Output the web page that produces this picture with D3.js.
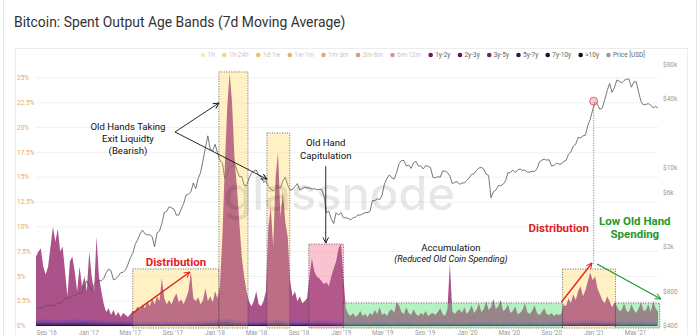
<!DOCTYPE html>
<html><head><meta charset="utf-8">
<script src="https://cdn.jsdelivr.net/npm/d3@7"></script>
<style>
html,body{margin:0;padding:0;background:#fff;}
svg{display:block;font-family:Roboto,"Open Sans",Arial,sans-serif;}
</style></head><body>
<svg id="chart" width="700" height="335"></svg>
<script>
// ---- data -------------------------------------------------------------
const startWeek = "2016-08-07";   // first weekly sample, one value per week after it

// 1y-2y spent output share (%), weekly
const band1y2y = [
  7, 7.5, 7.8, 6, 5.2, 6, 8, 10, 8.5, 9.8,
  7.5, 8, 5.5, 3, 6.5, 7, 5.5, 3.5, 6, 4,
  5, 3.5, 7.5, 5, 3.5, 9, 5, 3.5, 2.2, 1.4,
  1.8, 1.1, 1.6, 1.0, 1.4, 0.9, 1.3, 1.1, 0.9, 1.2,
  1.5, 1.5, 2, 1.6, 2.2, 1.8, 2.5, 2, 2.8, 2.2,
  3, 2.5, 4.8, 2.8, 2.2, 2.6, 2.2, 2.8, 3.3, 2.4,
  2.7, 2.2, 2.8, 3.5, 5.5, 2.8, 2.5, 2.9, 2.2, 2.6,
  3.8, 2.5, 3, 2.4, 3.5, 2.8, 4, 9, 16, 22,
  25.5, 22.5, 17, 14, 10.5, 7, 5, 3.5, 2.5, 2,
  2.5, 3.5, 2.2, 2, 2.5, 3.5, 10, 12, 8, 15,
  17.5, 11, 13.5, 10.5, 9, 4.5, 3, 3.5, 2.5, 3,
  2.3, 2.5, 2.8, 5, 6.8, 5.5, 5, 4.8, 4.5, 4.2,
  4.4, 4, 5, 5.8, 6.5, 7.8, 8.3, 5, 1.8, 1.2,
  1.0, 1.3, 0.9, 1.1, 1.5, 1.0, 1.2, 0.9, 1.3, 1.1,
  1.6, 1.2, 1.9, 1.1, 1.3, 1.0, 1.5, 1.7, 1.3, 2.4,
  2.1, 1.4, 1.2, 1.9, 1.3, 1.1, 1.7, 1.2, 1.0, 1.3,
  1.1, 1.5, 1.0, 1.2, 1.3, 1.1, 1.4, 1.8, 1.2, 1.0,
  1.7, 6.3, 1.5, 1.2, 1.5, 1.7, 1.3, 1.9, 1.2, 1.5,
  2.1, 1.3, 1.6, 2.3, 1.4, 1.7, 2.5, 1.6, 1.9, 2.7,
  1.7, 2.0, 2.6, 1.5, 1.7, 2.2, 1.3, 1.5, 2.0, 1.2,
  1.3, 1.6, 2.3, 1.4, 1.2, 1.5, 2.1, 1.3, 1.1, 1.4,
  1.8, 1.2, 1.1, 1.3, 1.0, 1.2, 1.1, 1.2, 2.2, 2.0,
  2.8, 2.3, 3.2, 2.6, 3.5, 4.0, 3.0, 3.6, 4.5, 5.4,
  4.6, 5.0, 3.8, 3.2, 2.6, 2.3, 3.0, 2.5, 1.9, 2.4,
  2.0, 1.5, 1.6, 2.3, 1.5, 1.4, 2.2, 1.6, 1.3, 1.8,
  2.4, 1.5, 1.6, 2.2, 1.4, 2.5, 1.8, 1.4
];

// BTC price (USD), weekly, same dates as band1y2y
const priceUSD = [
  590,570,580,575,610,605,610,605,612,640,640,655,700,710,705,740,735,765,775,790,900,
  1000,900,820,920,970,1010,1000,1050,1180,1270,1230,1020,1040,1100,1180,1190,1250,1400,1600,1750,2100,2300,2600,2800,2600,2550,2550,2450,2000,2650,2750,3200,4000,4100,4500,4400,4300,3800,3800,4300,4800,5700,5800,6100,7300,6500,8000,9000,11500,15000,19000,14500,14000,
  16000,13500,11500,11000,8000,8700,10500,10000,11000,9500,8300,8300,7000,6900,8000,8900,9300,9500,8500,8300,7400,7600,6800,6500,6200,6400,6700,6600,7600,8200,7000,6300,6400,6800,7200,6300,6500,6700,6600,6600,6450,6500,6350,6400,6400,5600,4000,4100,3500,3200,4000,3800,
  4000,3600,3600,3550,3450,3600,3650,3800,3800,3900,4000,4000,4100,5100,5100,5300,5200,5700,7200,8000,8600,8100,7900,9000,10800,11500,11500,10300,10500,9800,11000,11300,10300,10300,9700,10400,10200,10000,8200,8100,8300,8200,9300,9300,9000,8400,7200,7400,7500,7100,7300,7300,
  7700,8100,8700,8800,9400,9900,10000,9700,8700,8500,5400,6100,6300,6900,6900,7100,7600,9000,9000,9500,9000,9500,9700,9400,9500,9100,9100,9250,9200,9700,11200,11600,11800,11600,11700,10300,10400,10900,10700,10700,11300,11500,13000,13700,15400,16000,18400,18200,19000,19200,23500,26500,
  32000,38000,36000,32500,33500,39500,47500,55000,46000,50500,59000,57500,55500,58500,60000,60000,51000,56500,57000,46000,38000,35500,36000,36500,35500,33500,34500,33500
];

// older bands (%), monthly from the start date
const band2y3y = [
  0.6,0.65,0.55,0.6,0.65,
  0.6,0.55,0.5,0.5,0.45,0.4,0.45,0.4,0.45,0.4,0.45,0.5,
  0.55,0.7,0.55,0.45,0.4,0.5,0.6,0.45,0.4,0.5,0.55,0.5,
  0.4,0.35,0.35,0.35,0.4,0.35,0.4,0.35,0.35,0.4,0.35,0.35,
  0.35,0.4,0.4,0.35,0.4,0.35,0.4,0.35,0.4,0.45,0.5,0.55,
  0.55,0.5,0.45,0.4,0.45,0.4,0.4
];
const band3y5y = [
  0.35,0.38,0.32,0.35,0.38,
  0.35,0.32,0.28,0.28,0.25,0.22,0.25,0.22,0.25,0.22,0.25,0.28,
  0.32,0.42,0.32,0.25,0.22,0.28,0.35,0.25,0.22,0.28,0.32,0.28,
  0.22,0.18,0.18,0.18,0.22,0.18,0.22,0.18,0.18,0.22,0.18,0.18,
  0.18,0.22,0.22,0.18,0.22,0.18,0.22,0.18,0.22,0.25,0.28,0.32,
  0.32,0.28,0.25,0.22,0.25,0.22,0.22
];
const band5y7y = [
  0.2,0.2,0.16,0.2,0.2,
  0.16,0.16,0.14,0.14,0.12,0.11,0.12,0.11,0.12,0.11,0.12,0.14,
  0.16,0.2,0.16,0.12,0.11,0.14,0.17,0.12,0.11,0.14,0.16,0.14,
  0.11,0.09,0.09,0.09,0.11,0.09,0.11,0.09,0.09,0.11,0.09,0.09,
  0.09,0.11,0.11,0.09,0.11,0.09,0.11,0.09,0.11,0.12,0.14,0.16,
  0.16,0.14,0.12,0.11,0.12,0.11,0.11
];
const band7y10y = [
  0.1,0.1,0.08,0.1,0.1,
  0.08,0.08,0.07,0.07,0.06,0.06,0.06,0.06,0.06,0.06,0.06,0.07,
  0.08,0.1,0.08,0.06,0.06,0.07,0.09,0.06,0.06,0.07,0.08,0.07,
  0.05,0.05,0.05,0.05,0.05,0.05,0.05,0.05,0.05,0.05,0.05,0.05,
  0.05,0.05,0.05,0.05,0.05,0.05,0.05,0.05,0.05,0.06,0.07,0.08,
  0.08,0.07,0.06,0.05,0.06,0.05,0.05
];
const band10yPlus = [
  0.05,0.05,0.04,0.05,0.05,
  0.04,0.04,0.04,0.04,0.03,0.03,0.03,0.03,0.03,0.03,0.03,0.04,
  0.04,0.05,0.04,0.03,0.03,0.04,0.05,0.03,0.03,0.04,0.04,0.04,
  0.03,0.02,0.02,0.02,0.03,0.02,0.03,0.02,0.02,0.03,0.02,0.02,
  0.02,0.03,0.03,0.02,0.03,0.02,0.03,0.02,0.03,0.03,0.04,0.04,
  0.04,0.04,0.03,0.03,0.03,0.03,0.03
];

const legendLabels = ["1h","1h-24h","1d-1w","1w-1m","1m-3m","3m-6m","6m-12m","1y-2y","2y-3y","3y-5y","5y-7y","7y-10y",">10y","Price [USD]"];
const legendActive = [false,false,false,false,false,false,false,true,true,true,true,true,true,true];

const pctTicks = [0, 2.5, 5, 7.5, 10, 12.5, 15, 17.5, 20, 22.5, 25];
const priceTicks = [400, 800, 2000, 6000, 10000, 40000, 80000];
const priceTickLabels = ["$400", "$800", "$2k", "$6k", "$10k", "$40k", "$80k"];
const dateTicks = ["2016-09-01","2017-01-01","2017-05-01","2017-09-01","2018-01-01","2018-05-01","2018-09-01","2019-01-01","2019-05-01","2019-09-01","2020-01-01","2020-05-01","2020-09-01","2021-01-01","2021-05-01"];
const dateTickLabels = ["Sep '16","Jan '17","May '17","Sep '17","Jan '18","May '18","Sep '18","Jan '19","May '19","Sep '19","Jan '20","May '20","Sep '20","Jan '21","May '21"];

// highlighted periods: start, end, upper bound (%) and tint
const zoneStart = ["2017-05-14","2018-01-18","2018-06-06","2018-10-05","2019-01-13","2020-10-08","2021-03-10"];
const zoneEnd   = ["2018-01-18","2018-04-12","2018-08-11","2019-01-13","2020-10-08","2021-03-10","2021-07-16"];
const zoneTop   = [5.75, 25.6, 19.45, 8.26, 2.32, 5.74, 2.32];
const zoneKind  = ["dist","dist","dist","capit","accum","dist","accum"];

// ---- layout -----------------------------------------------------------
const svg = d3.select("#chart");
const parse = d3.utcParse("%Y-%m-%d");
const t0 = parse(startWeek);
const weekDates = band1y2y.map((_, i) => d3.utcDay.offset(t0, 7 * i));
const monthDates = band2y3y.map((_, i) => d3.utcMonth.offset(t0, i));

const plot = {left: 36, right: 658, top: 65, bottom: 326};
const x = d3.scaleUtc().domain([t0, weekDates[weekDates.length - 1]]).range([plot.left, plot.right]);
const yPct = d3.scaleLinear().domain([0, 26.3]).range([plot.bottom, plot.top]);
const yPrice = d3.scaleLog().domain([400, 80000]).range([plot.bottom, plot.top]);

// card + panel frames
svg.append("rect").attr("x", 3.5).attr("y", -10).attr("width", 693).attr("height", 360)
  .attr("fill", "#fff").attr("stroke", "#e4e4e4");
svg.append("rect").attr("x", 15.5).attr("y", 48.5).attr("width", 672).attr("height", 300)
  .attr("fill", "none").attr("stroke", "#ececec");

svg.append("text").attr("x", 14).attr("y", 27)
  .attr("font-size", 13.9).attr("fill", "#333").attr("font-family", "Roboto, sans-serif")
  .text("Bitcoin: Spent Output Age Bands (7d Moving Average)");

// legend
const legendColors = ["#f6eeb2","#efd87c","#eac36a","#e4b46c","#ef9f86","#e29191","#d88fa8",
                      "#6a1f58","#4e1b57","#5a2a6a","#2c1a4c","#1c1030","#111111","#9a9a9a"];
const lg = svg.append("g").attr("font-size", 6.5);
let lx = 203;
legendLabels.forEach((lab, i) => {
  lg.append("circle").attr("cx", lx).attr("cy", 55).attr("r", 2.3).attr("fill", legendColors[i]);
  const t = lg.append("text").attr("x", lx + 4.5).attr("y", 57.3)
    .attr("fill", legendActive[i] ? "#666" : "#c8c8c8").text(lab);
  lx += 4.5 + t.node().getComputedTextLength() + 9.5;
});

// gridlines + axes
const grid = svg.append("g");
pctTicks.forEach(t => {
  grid.append("line").attr("x1", plot.left).attr("x2", plot.right)
    .attr("y1", yPct(t)).attr("y2", yPct(t)).attr("stroke", "#f1f1f1");
  grid.append("text").attr("x", 17).attr("y", yPct(t) + 2.3)
    .attr("font-size", 6.5).attr("fill", "#eba56c").text(t + "%");
});
priceTicks.forEach((p, i) => {
  grid.append("text").attr("x", 663).attr("y", yPrice(p) + 2.3)
    .attr("font-size", 6.5).attr("fill", "#9a9a9a").text(priceTickLabels[i]);
});
dateTicks.forEach((d, i) => {
  grid.append("text").attr("x", x(parse(d)) + 2).attr("y", 334.5).attr("text-anchor", "middle")
    .attr("font-size", 6.3).attr("fill", "#9a9a9a").text(dateTickLabels[i]);
});

// clip to the plotting area
svg.append("clipPath").attr("id", "plotClip").append("rect")
  .attr("x", plot.left).attr("y", plot.top - 10).attr("width", plot.right - plot.left)
  .attr("height", plot.bottom - plot.top + 10);

// highlighted periods: tinted background behind the bands
const zoneFill = {dist: "rgb(255,226,120)", capit: "rgb(246,128,158)", accum: "rgb(118,232,140)"};
const zoneUnder = {dist: 0.3, capit: 0.4, accum: 0.3};
const zoneOver = {dist: 0.2, capit: 0.12, accum: 0.34};
const zoneRect = (sel, i) => {
  const x0 = x(parse(zoneStart[i])), x1 = x(parse(zoneEnd[i])), yt = yPct(zoneTop[i]);
  return sel.append("rect").attr("x", x0).attr("y", yt).attr("width", x1 - x0)
    .attr("height", yPct(0) + 2 - yt).attr("fill", zoneFill[zoneKind[i]]);
};
zoneStart.forEach((s, i) => zoneRect(svg, i).attr("fill-opacity", zoneUnder[zoneKind[i]]));

const body = svg.append("g").attr("clip-path", "url(#plotClip)");

// spent output bands, each drawn from zero; older bands sit in front
const area = d3.area().x(d => x(d[0])).y0(yPct(0)).y1(d => yPct(d[1]));
const bands = [
  {dates: weekDates, values: band1y2y, color: "#aa5289"},
  {dates: monthDates, values: band2y3y, color: "#8a4c9e"},
  {dates: monthDates, values: band3y5y, color: "#6a3585"},
  {dates: monthDates, values: band5y7y, color: "#4a2668"},
  {dates: monthDates, values: band7y10y, color: "#321a4d"},
  {dates: monthDates, values: band10yPlus, color: "#1e1030"}
];
bands.forEach(b => {
  body.append("path").datum(b.values.map((v, i) => [b.dates[i], v]))
    .attr("d", area).attr("fill", b.color);
});

// light tint over the bands plus dotted outline
zoneStart.forEach((s, i) => {
  zoneRect(svg, i).attr("fill-opacity", zoneOver[zoneKind[i]])
    .attr("stroke", "#444").attr("stroke-width", 0.8).attr("stroke-dasharray", "1,1.5");
});

// watermark
svg.append("text").attr("x", 339).attr("y", 210).attr("text-anchor", "middle")
  .attr("font-size", 46).attr("font-family", "Inter, Roboto, sans-serif").attr("font-weight", 500)
  .attr("fill", "#000").attr("fill-opacity", 0.1).attr("textLength", 232).attr("lengthAdjust", "spacingAndGlyphs")
  .text("glassnode");

// price line
const line = d3.line().x((d, i) => x(weekDates[i])).y(d => yPrice(d));
body.append("path").datum(priceUSD).attr("d", line)
  .attr("fill", "none").attr("stroke", "#555").attr("stroke-width", 0.8);

// ---- annotations ------------------------------------------------------
const defs = svg.append("defs");
[["blk", "#111"], ["red", "#e3201e"], ["grn", "#1c9a2c"]].forEach(([id, c]) => {
  defs.append("marker").attr("id", "arr-" + id).attr("viewBox", "0 0 10 10")
    .attr("refX", 9).attr("refY", 5).attr("markerWidth", 7).attr("markerHeight", 7)
    .attr("markerUnits", "userSpaceOnUse").attr("orient", "auto")
    .append("path").attr("d", "M1,1 L9,5 L1,9").attr("fill", "none").attr("stroke", c).attr("stroke-width", 1.3);
});
const P = (d, v) => [x(parse(d)), yPct(v)];
const arrow = (a, b, id, c, w) => svg.append("line")
  .attr("x1", a[0]).attr("y1", a[1]).attr("x2", b[0]).attr("y2", b[1])
  .attr("stroke", c).attr("stroke-width", w).attr("marker-end", `url(#arr-${id})`);

// peak marker and its drop line
const peakDate = "2021-01-06", peakPrice = 38400;
svg.append("line").attr("x1", x(parse(peakDate))).attr("x2", x(parse(peakDate)))
  .attr("y1", yPrice(peakPrice) + 4).attr("y2", yPct(6.25))
  .attr("stroke", "#555").attr("stroke-width", 0.8).attr("stroke-dasharray", "1,1.5");
svg.append("circle").attr("cx", x(parse(peakDate))).attr("cy", yPrice(peakPrice)).attr("r", 4)
  .attr("fill", "rgba(245,140,150,0.45)").attr("stroke", "#d9485a").attr("stroke-width", 0.8);

arrow(P("2017-09-13", 19.55), P("2018-01-18", 22.47), "blk", "#111", 0.9);
arrow(P("2017-09-13", 19.55), P("2018-06-06", 14.8), "blk", "#111", 0.9);
arrow(P("2018-11-23", 16.1), P("2018-11-23", 8.36), "blk", "#111", 0.9);
arrow(P("2017-05-14", 1.3), P("2017-10-26", 5.44), "red", "#e3201e", 1.3);
arrow(P("2020-10-05", 2.42), P("2021-01-01", 6.35), "red", "#e3201e", 1.3);
arrow(P("2021-01-16", 6.25), P("2021-07-19", 2.72), "grn", "#1c9a2c", 1.2);

const notes = [
  {date: "2017-04-30", pct: [19.7, 18.54, 17.38], lines: ["Old Hands Taking", "Exit Liquidty", "(Bearish)"], size: 9.6, color: "#111", weight: 400, style: "normal"},
  {date: "2018-11-23", pct: [18.09, 16.78], lines: ["Old Hand", "Capitulation"], size: 9.6, color: "#111", weight: 400, style: "normal"},
  {date: "2017-09-16", pct: [6.05], lines: ["Distribution"], size: 11.5, color: "#e3201e", weight: 700, style: "normal"},
  {date: "2019-11-20", pct: [7.51], lines: ["Accumulation"], size: 9.6, color: "#111", weight: 400, style: "normal"},
  {date: "2019-11-20", pct: [6.40], lines: ["(Reduced Old Coin Spending)"], size: 9, color: "#111", weight: 400, style: "italic"},
  {date: "2020-09-27", pct: [9.52], lines: ["Distribution"], size: 11.5, color: "#e3201e", weight: 700, style: "normal"},
  {date: "2021-05-05", pct: [10.13, 8.82], lines: ["Low Old Hand", "Spending"], size: 11.5, color: "#1c9a2c", weight: 700, style: "normal"}
];
notes.forEach(n => {
  n.lines.forEach((s, k) => {
    svg.append("text").attr("x", x(parse(n.date))).attr("y", yPct(n.pct[k]))
      .attr("text-anchor", "middle").attr("font-family", "Roboto, Arial, sans-serif")
      .attr("font-size", n.size).attr("font-weight", n.weight).attr("font-style", n.style)
      .attr("fill", n.color).text(s);
  });
});
</script>
</body></html>
